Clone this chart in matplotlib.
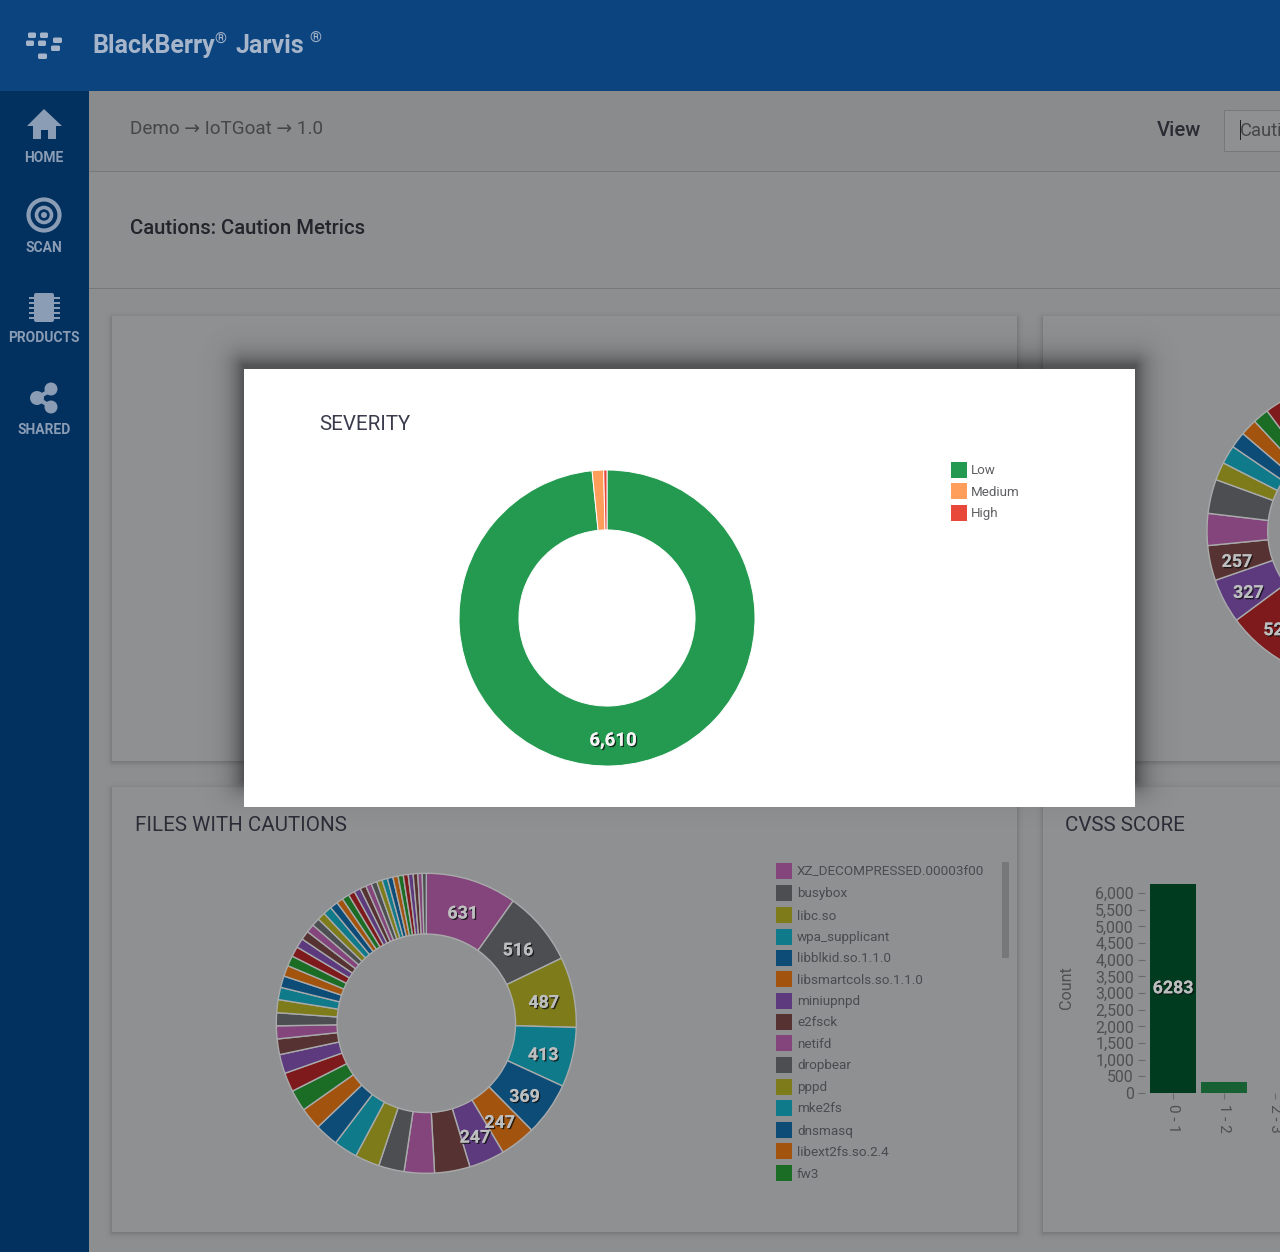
import matplotlib
matplotlib.use('Agg')
import matplotlib.pyplot as plt
import matplotlib.patheffects as pe
from matplotlib.patches import Rectangle, Circle, Polygon, FancyBboxPatch
import numpy as np

plt.rcParams['font.family'] = ['Roboto', 'DejaVu Sans']

W, H = 1280, 1252

# palette (dimmed by the modal overlay)
pink, gray, olive, teal = '#84447c', '#4d4e52', '#7e7c1a', '#0e7a8a'
blue, orange, green, red = '#0e4c78', '#a2540f', '#1b6d26', '#7f1a1c'
purple, brown = '#5d3a7e', '#573232'

# severity
severity_names = ['Low', 'Medium', 'High']
severity_values = [6610, 84, 24]
severity_colors = ['#239a50', '#ff9e5a', '#e8483a']

# files with cautions
file_values = [631, 516, 487, 413, 369, 247, 247, 245,
               209, 177, 170, 164, 162, 153, 148, 132, 132, 108,
               90, 90, 90, 85, 80, 75, 72, 70, 65, 62,
               58, 55, 55, 60, 55, 45, 50, 45,
               45, 42, 40, 40, 38, 38, 38, 36, 36, 34, 34, 32, 30, 28]
cycle = [pink, gray, olive, teal, blue, orange, green, red, purple, brown]
file_colors = [pink, gray, olive, teal, blue, orange, purple, brown] + cycle * 4
file_names = ['XZ_DECOMPRESSED.00003f00', 'busybox', 'libc.so', 'wpa_supplicant', 'libblkid.so.1.1.0',
              'libsmartcols.so.1.1.0', 'miniupnpd', 'e2fsck', 'netifd', 'dropbear', 'pppd', 'mke2fs',
              'dnsmasq', 'libext2fs.so.2.4', 'fw3']
legend_colors = [pink, gray, olive, teal, blue, orange, purple, brown, pink, gray, olive, teal, blue, orange, green]

# top right donut, only its left edge is on screen
right_values = [1140, 900, 700, 500, 350, 300, 524, 327, 257, 234, 250, 132, 136, 119, 123, 117, 160, 150, 140, 120, 126]
right_colors = [pink, gray, olive, teal, blue, orange, red, purple, brown, pink, gray, olive, teal, blue, orange, green,
                red, purple, brown, pink, gray]
right_labels = {6: '524', 7: '327', 8: '257'}

# cvss score
cvss_bins = ['0 - 1', '1 - 2', '2 - 3']
cvss_counts = [6283, 330, 0]
cvss_colors = ['#003a1f', '#166033', '#166033']
cvss_ticks = list(range(0, 6001, 500))

fig = plt.figure(figsize=(W / 100, H / 100), dpi=100, facecolor='#8d8e90')
bg = fig.add_axes([0, 0, 1, 1], zorder=0)
bg.set_xlim(0, W)
bg.set_ylim(H, 0)
bg.axis('off')


def rect(x0, y0, x1, y1, color, z=1, **kw):
    bg.add_patch(Rectangle((x0, y0), x1 - x0, y1 - y0, facecolor=color, edgecolor='none', zorder=z, **kw))


def label(x, y, s, size, color, weight='normal', ha='left', z=10, **kw):
    return bg.text(x, y + 1.5, s, fontsize=size, color=color, fontweight=weight, ha=ha, va='center', zorder=z, **kw)


def shadow(x0, y0, x1, y1, strength, spread, z):
    # soft shadow of a box: black image whose alpha falls off with distance
    xx, yy = np.meshgrid(np.arange(W) + 0.5, np.arange(H) + 0.5)
    dx = np.maximum(np.maximum(x0 - xx, xx - x1), 0)
    dy = np.maximum(np.maximum(y0 - yy, yy - y1), 0)
    img = np.zeros((H, W, 4))
    img[..., 3] = strength * np.exp(-(np.hypot(dx, dy) / spread) ** 1.2)
    bg.imshow(img, extent=(0, W, H, 0), zorder=z, aspect='auto', interpolation='nearest')
    bg.set_xlim(0, W)
    bg.set_ylim(H, 0)


SHADOW_TEXT = [pe.withSimplePatchShadow(offset=(1, -1), shadow_rgbFace='#111111', alpha=0.8), pe.Normal()]


def donut(cx, cy, r, values, colors, edge, labels=None, size=12.8, text_color='#bdbebf', lw=1.0, label_r=0.8):
    ax = fig.add_axes([(cx - r) / W, 1 - (cy + r) / H, 2 * r / W, 2 * r / H], zorder=2)
    wedges, _ = ax.pie(values, colors=colors, startangle=90, counterclock=False, radius=1,
                       wedgeprops={'width': 0.405, 'edgecolor': edge, 'linewidth': lw})
    ax.set_xlim(-1, 1)
    ax.set_ylim(-1, 1)
    ax.axis('off')
    if labels:
        for i, s in labels.items():
            mid = np.deg2rad((wedges[i].theta1 + wedges[i].theta2) / 2)
            ax.text(label_r * np.cos(mid), label_r * np.sin(mid) - 0.03, s, ha='center', va='center', fontsize=size,
                    fontweight='bold', color=text_color, path_effects=SHADOW_TEXT, zorder=10)
    return ax


# page chrome
rect(0, 0, W, 91, '#0c4480')
rect(0, 91, 89, H, '#02305f', z=2)
rect(89, 91, W, 171, '#8a8b8d')
rect(89, 171, W, 172, '#77787a')
rect(89, 288, W, 289, '#77787a')

# logo
for x, y, w in [(28, 33, 8), (40, 33, 8), (26, 41, 8), (38, 41, 8), (53, 38, 9), (51, 46, 9), (38, 54, 9)]:
    bg.add_patch(FancyBboxPatch((x + 1.5, y + 1), w - 3, 2.5, boxstyle='round,pad=1.5', facecolor='#a6b5c9',
                                edgecolor='none', zorder=3))
label(92, 44.5, 'BlackBerry', 18, '#a6b5c9', weight='bold')
label(214, 38.5, '®', 11, '#a6b5c9')
label(235, 44.5, 'Jarvis', 18, '#a6b5c9', weight='bold')
label(309, 37.5, '®', 11, '#a6b5c9')

# sidebar
ICON = '#8b9db5'
bg.add_patch(Polygon([(44, 109), (62, 126), (56, 126), (56, 139), (48, 139), (48, 130), (41, 130), (41, 139),
                      (33, 139), (33, 126), (27, 126)], facecolor=ICON, edgecolor='none', zorder=3))
bg.add_patch(Circle((44, 215), 15.5, facecolor='none', edgecolor=ICON, linewidth=3, zorder=3))
bg.add_patch(Circle((44, 215), 7.5, facecolor='none', edgecolor=ICON, linewidth=2.6, zorder=3))
bg.add_patch(Circle((44, 215), 3, facecolor=ICON, edgecolor='none', zorder=3))
bg.add_patch(FancyBboxPatch((36, 295), 16, 25, boxstyle='round,pad=2', facecolor=ICON, edgecolor='none', zorder=3))
for y in [298, 303, 308, 313, 318]:
    rect(29, y - 1, 34, y + 1, ICON, z=3)
    rect(54, y - 1, 60, y + 1, ICON, z=3)
bg.plot([51, 37, 51], [390, 398, 407], color=ICON, lw=3, zorder=3)
for x, y, r in [(51, 389, 6.5), (37, 398, 7), (51, 407, 6.5)]:
    bg.add_patch(Circle((x, y), r, facecolor=ICON, edgecolor='none', zorder=3))
for y, s in [(156, 'HOME'), (247, 'SCAN'), (337, 'PRODUCTS'), (428, 'SHARED')]:
    label(44, y, s, 10, ICON, weight='bold', ha='center')

# header strip
label(130, 128, 'Demo → IoTGoat → 1.0', 13.6, '#454648')
label(1157, 129, 'View', 14.6, '#2b2c33', weight='medium')
rect(1224, 110, W, 152, '#77787a', z=2)
rect(1225, 111, W, 151, '#8f9092', z=2)
label(1240, 129, 'Cautions', 13.2, '#454648')
rect(1240, 120, 1241, 140, '#222222', z=11)
label(130, 227, 'Cautions: Caution Metrics', 14.6, '#24252c', weight='medium')

# cards
for x0, y0, x1, y1 in [(112, 316, 1017, 761), (1043, 316, W + 10, 761), (112, 787, 1017, 1232), (1043, 787, W + 10, 1232)]:
    shadow(x0, y0 + 2, x1, y1 + 1, 0.14, 2.5, 3)
    rect(x0, y0, x1, y1, '#8f9092', z=4)

label(135, 824, 'FILES WITH CAUTIONS', 14.75, '#2b2c36', z=5)
label(1065, 824, 'CVSS SCORE', 14.75, '#2b2c36', z=5)

# modal
shadow(244, 366, 1135, 780, 0.42, 13, 6)
rect(244, 369, 1135, 807, 'white', z=7)
label(319, 423, 'SEVERITY', 14.8, '#3a3b4c')
for y, s, c in zip([470, 491, 513], severity_names, severity_colors):
    rect(951, y - 8, 967, y + 8, c, z=8)
    label(971, y - 0.5, s, 9.6, '#5e5f62')

# legend of the files card
for y, s, c in zip([871, 893, 915, 937, 958, 979, 1001, 1022, 1043, 1065, 1087, 1108, 1130, 1151, 1173], file_names, legend_colors):
    rect(776, y - 8, 792, y + 8, c, z=5)
    label(797, y - 0.5, s, 9.7, '#4a4b4e', z=5)
bg.add_patch(FancyBboxPatch((1003, 863), 5, 94, boxstyle='round,pad=1', facecolor='#77787a', edgecolor='none', zorder=5))

# donuts
donut(607, 618, 148, severity_values, severity_colors, 'white', {0: '6,610'}, size=13.4, text_color='#f4f4f4', lw=0.7).set_zorder(3)
donut(426.3, 1023.3, 150, file_values, file_colors, '#a9aaab',
      {0: '631', 1: '516', 2: '487', 3: '413', 4: '369', 5: '247', 6: '247'})
donut(1357, 531, 150, right_values, right_colors, '#a9aaab', right_labels, label_r=0.82)

# cvss bars
ax = fig.add_axes([1145 / W, 1 - 1093 / H, 155 / W, 209.4 / H], zorder=2)
ax.patch.set_alpha(0)
ax.bar(range(len(cvss_bins)), cvss_counts, width=0.9, color=cvss_colors)
ax.set_xlim(-0.55, 2.49)
ax.set_ylim(0, 6283)
ax.set_yticks(cvss_ticks)
ax.set_yticklabels([f'{t:,}' for t in cvss_ticks], fontsize=11.4, color='#4f5052')
ax.set_xticks(range(len(cvss_bins)))
ax.set_xticklabels(cvss_bins, rotation=270, fontsize=11, color='#4f5052')
ax.tick_params(axis='y', length=5, color='#6a6b6d', pad=3)
ax.tick_params(axis='x', length=4, color='#6a6b6d', pad=4)
for s in ax.spines.values():
    s.set_visible(False)
ax.text(0, cvss_counts[0] / 2, str(cvss_counts[0]), ha='center', va='center', fontsize=12.8, fontweight='bold',
        color='#bdbebf', path_effects=SHADOW_TEXT)
fig.text(1067 / W, 1 - 988 / H, 'Count', rotation=90, ha='center', va='center', fontsize=11.6, color='#4f5052')

fig.savefig('out.png', dpi=100, facecolor=fig.get_facecolor())
